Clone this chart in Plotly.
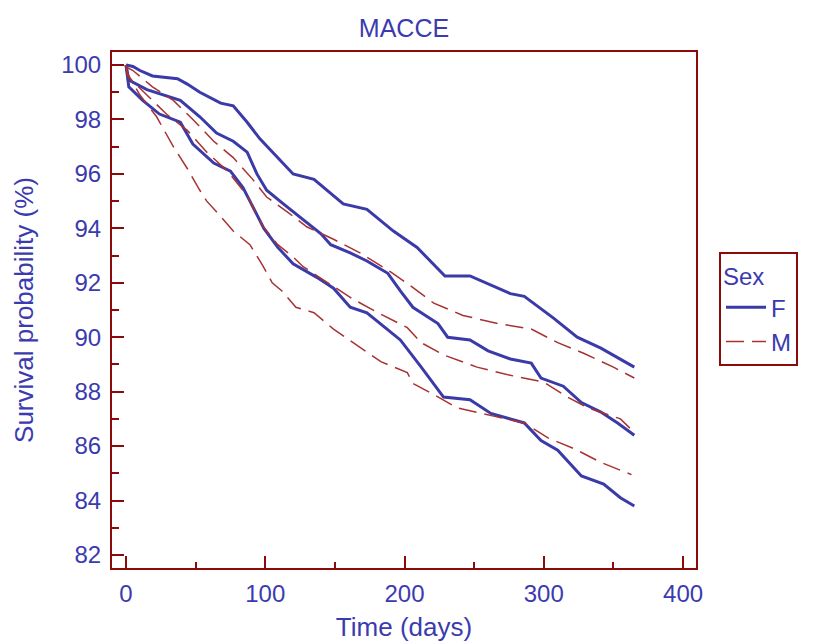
import plotly.graph_objects as go

# ---- Data ----
# Female (F): Kaplan-Meier estimate with 95% CI
f_up_t = [0, 5, 10, 19, 37, 44, 53, 68, 77, 87, 96, 109, 120, 135, 156, 173, 192, 209, 229, 247, 262, 276, 286, 307, 324, 341, 365]
f_up_v = [100, 99.95, 99.8, 99.6, 99.5, 99.3, 99.0, 98.6, 98.5, 97.9, 97.3, 96.6, 96.0, 95.8, 94.9, 94.7, 93.9, 93.3, 92.25, 92.25, 91.9, 91.6, 91.5, 90.7, 90.0, 89.6, 88.9]

f_mid_t = [0, 2, 15, 34, 39, 53, 65, 77, 87, 94, 101, 113, 125, 140, 147, 161, 173, 188, 197, 206, 212, 224, 231, 247, 260, 276, 291, 298, 314, 327, 341, 353, 365]
f_mid_v = [100, 99.45, 99.1, 98.8, 98.7, 98.1, 97.5, 97.2, 96.8, 96.0, 95.4, 94.9, 94.4, 93.8, 93.4, 93.1, 92.8, 92.35, 91.7, 91.1, 90.9, 90.5, 90.0, 89.9, 89.5, 89.2, 89.05, 88.5, 88.2, 87.6, 87.25, 86.85, 86.4]

f_low_t = [0, 2, 12, 24, 39, 48, 63, 75, 84, 99, 109, 120, 137, 149, 161, 173, 185, 197, 212, 228, 247, 262, 286, 298, 310, 327, 343, 355, 365]
f_low_v = [100, 99.2, 98.7, 98.2, 97.9, 97.1, 96.4, 96.1, 95.5, 94.0, 93.3, 92.7, 92.2, 91.8, 91.1, 90.9, 90.4, 89.9, 88.9, 87.8, 87.7, 87.2, 86.85, 86.2, 85.85, 84.9, 84.6, 84.1, 83.8]

# Male (M)
m_up_t = [0, 1, 5, 19, 34, 48, 63, 77, 91, 101, 116, 130, 149, 168, 190, 204, 221, 242, 267, 291, 310, 329, 350, 365]
m_up_v = [100, 99.9, 99.8, 99.2, 98.7, 98.0, 97.2, 96.6, 95.8, 95.15, 94.6, 94.05, 93.6, 93.1, 92.4, 91.9, 91.25, 90.8, 90.5, 90.3, 89.8, 89.4, 88.9, 88.5]

m_mid_t = [0, 1, 15, 29, 44, 58, 73, 87, 98, 109, 120, 127, 145, 163, 181, 202, 212, 228, 252, 276, 300, 317, 332, 355, 365]
m_mid_v = [100, 99.6, 98.9, 98.2, 97.6, 96.8, 96.1, 95.2, 94.1, 93.4, 92.95, 92.6, 92.0, 91.4, 90.9, 90.35, 89.8, 89.35, 88.9, 88.6, 88.35, 87.8, 87.4, 87.0, 86.5]

m_low_t = [0, 1, 10, 22, 34, 44, 53, 58, 67, 77, 89, 98, 105, 112, 122, 135, 149, 166, 183, 202, 206, 219, 238, 264, 286, 303, 322, 341, 363]
m_low_v = [100, 99.7, 98.9, 98.1, 97.0, 96.2, 95.4, 95.0, 94.5, 93.9, 93.4, 92.65, 92.0, 91.7, 91.1, 90.9, 90.3, 89.7, 89.1, 88.7, 88.3, 87.95, 87.4, 87.1, 86.85, 86.3, 85.9, 85.4, 84.95]

y_ticks = [82, 84, 86, 88, 90, 92, 94, 96, 98, 100]
x_ticks = [0, 100, 200, 300, 400]

# ---- Styles ----
BLUE = "#3A3AA8"
RED = "#A83232"
AXIS = "#8B0A0A"
TEXT = "#3B3BAF"
FONT = "Liberation Sans, Arial, sans-serif"

fig = go.Figure()

for i, (t, v) in enumerate([(f_mid_t, f_mid_v), (f_up_t, f_up_v), (f_low_t, f_low_v)]):
    fig.add_trace(go.Scatter(
        x=t, y=v, mode="lines", name="F", legendgroup="F",
        showlegend=(i == 0),
        line=dict(color=BLUE, width=3),
    ))

for i, (t, v) in enumerate([(m_mid_t, m_mid_v), (m_up_t, m_up_v), (m_low_t, m_low_v)]):
    fig.add_trace(go.Scatter(
        x=t, y=v, mode="lines", name="M", legendgroup="M",
        showlegend=(i == 0),
        line=dict(color=RED, width=1.5, dash="18px,8px"),
    ))

axis_common = dict(
    showline=True, linecolor=AXIS, linewidth=2, mirror=True,
    ticks="inside", tickcolor=AXIS, tickwidth=2, ticklen=12,
    showgrid=False, zeroline=False, automargin=False,
    tickfont=dict(family=FONT, size=24, color=TEXT),
)

fig.update_layout(
    width=833, height=642,
    margin=dict(l=112, r=137, t=52, b=74),
    paper_bgcolor="white", plot_bgcolor="white",
    font=dict(family=FONT, color=TEXT),
    title=dict(text="MACCE", x=0.5, xref="paper", xanchor="center",
               y=1 - 28 / 642, yref="container", yanchor="middle",
               font=dict(family=FONT, size=25, color=TEXT)),
    xaxis=dict(
        range=[-10.05, 409.3], tickvals=x_ticks,
        minor=dict(ticks="inside", ticklen=6, tickwidth=2, tickcolor=AXIS, dtick=50, tick0=0),
        title=dict(text="Time (days)", standoff=22, font=dict(family=FONT, size=26, color=TEXT)),
        ticklabelstandoff=3,
        **axis_common,
    ),
    yaxis=dict(
        range=[81.52, 100.48], tickvals=y_ticks,
        minor=dict(ticks="inside", ticklen=7, tickwidth=2, tickcolor=AXIS, dtick=1, tick0=0),
        title=dict(text="Survival probability (%)", standoff=20, font=dict(family=FONT, size=26, color=TEXT)),
        ticklabelstandoff=4,
        **axis_common,
    ),
    legend=dict(
        x=(719 - 112) / 584, y=(568 - 252) / 516, xanchor="left", yanchor="top",
        bordercolor=AXIS, borderwidth=2, bgcolor="white",
        title=dict(text="Sex", font=dict(family=FONT, size=24, color=TEXT)),
        font=dict(family=FONT, size=24, color=TEXT),
        tracegroupgap=0, itemwidth=40,
    ),
    showlegend=True,
)

fig.write_html("out.html")
